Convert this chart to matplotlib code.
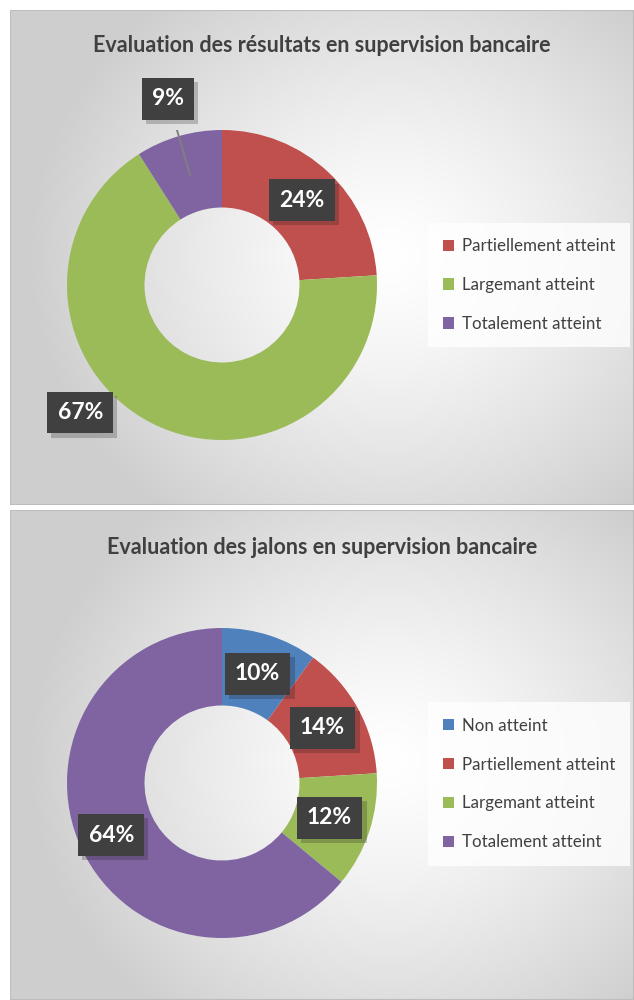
import numpy as np
import matplotlib.pyplot as plt
from matplotlib.patches import Rectangle
import matplotlib.patheffects as pe

plt.rcParams['font.family'] = ['Lato', 'DejaVu Sans']

W, H = 634, 1000

# graphique 1 : résultats
titre1 = "Evaluation des résultats en supervision bancaire"
cat1 = ["Partiellement atteint", "Largemant atteint", "Totalement atteint"]
val1 = [24, 67, 9]
col1 = ["#C0504D", "#9BBB59", "#8064A2"]

# graphique 2 : jalons
titre2 = "Evaluation des jalons en supervision bancaire"
cat2 = ["Non atteint", "Partiellement atteint", "Largemant atteint", "Totalement atteint"]
val2 = [10, 14, 12, 64]
col2 = ["#4F81BD", "#C0504D", "#9BBB59", "#8064A2"]

TXT = "#404040"

fig = plt.figure(figsize=(W / 100, H / 100), dpi=100)


def px_axes(x0, y0, w, h):
    # coordonnees en pixels depuis le coin haut-gauche
    return fig.add_axes([x0 / W, 1 - (y0 + h) / H, w / W, h / H])


def panneau(y0, h, cx, cy):
    ax = px_axes(10, y0, W - 10, h)
    yy, xx = np.mgrid[0:h, 0:W - 10]
    d = np.hypot(xx - (cx - 10), (yy - (cy - y0)) * 1.1) / 360
    g = 1 - 0.19 * np.clip(d, 0, 1) ** 1.3
    img = np.dstack([g, g, g])
    ax.imshow(img, extent=[0, W - 10, h, 0], aspect='auto')
    ax.set_xlim(0, W - 10)
    ax.set_ylim(h, 0)
    ax.add_patch(Rectangle((0, 0), W - 10, h, fill=False, ec="#bdbdbd", lw=1.5))
    ax.axis('off')


def donut(cx, cy, vals, cols, cats, r_lab, shift, leader, y_leg):
    R = 155
    ax = px_axes(cx - R, cy - R, 2 * R, 2 * R)
    wedges, _ = ax.pie(vals, colors=cols, startangle=90, counterclock=False,
                       radius=1, wedgeprops=dict(width=0.5, linewidth=0))
    ax.set_xlim(-1, 1)
    ax.set_ylim(-1, 1)
    ax.set_aspect('equal')
    ax.axis('off')
    tot = float(sum(vals))
    cum = np.cumsum([0] + list(vals))
    for i, v in enumerate(vals):
        mid = np.deg2rad(90 - 360 * (cum[i] + v / 2) / tot)
        a = mid + np.deg2rad(shift[i])
        x, y = r_lab[i] * np.cos(a), r_lab[i] * np.sin(a)
        if leader[i]:
            ax.plot([x, 0.74 * np.cos(mid)], [y, 0.74 * np.sin(mid)],
                    color="#7f7f7f", lw=1.4, zorder=4)
        t = ax.text(x, y, "%d%%" % v, ha='center', va='center', fontsize=16.5,
                    fontweight='bold', color='white', zorder=6,
                    bbox=dict(boxstyle="square,pad=0.45", fc="#404040", ec='none'))
        t.get_bbox_patch().set_path_effects(
            [pe.SimplePatchShadow(offset=(3, -3), alpha=0.22), pe.Normal()])
    leg = fig.legend(wedges, cats, loc='center left',
                     bbox_to_anchor=(433 / W, 1 - y_leg / H),
                     fontsize=12.2, labelcolor=TXT, frameon=True,
                     handlelength=0.65, handleheight=0.65, handletextpad=0.45,
                     labelspacing=1.35, borderpad=0.6, borderaxespad=0)
    leg.get_frame().set_facecolor((1, 1, 1, 0.4))
    leg.get_frame().set_edgecolor('none')
    leg.get_frame().set_boxstyle('square')


panneau(10, 495, 390, 255)
panneau(510, 490, 390, 760)

fig.text(322 / W, 1 - 45 / H, titre1, ha='center', va='center',
         fontsize=15.5, fontweight='bold', color=TXT)
fig.text(322 / W, 1 - 547 / H, titre2, ha='center', va='center',
         fontsize=15.5, fontweight='bold', color=TXT)

donut(222, 285, val1, col1, cat1, [0.75, 1.23, 1.25], [0, -21, 0],
      [False, False, True], 285)
donut(222, 783, val2, col2, cat2, [0.74, 0.74, 0.73, 0.79], [0, 0, 0, 0],
      [False, False, False, False], 784)

fig.savefig("out.png", dpi=100, facecolor='white')
